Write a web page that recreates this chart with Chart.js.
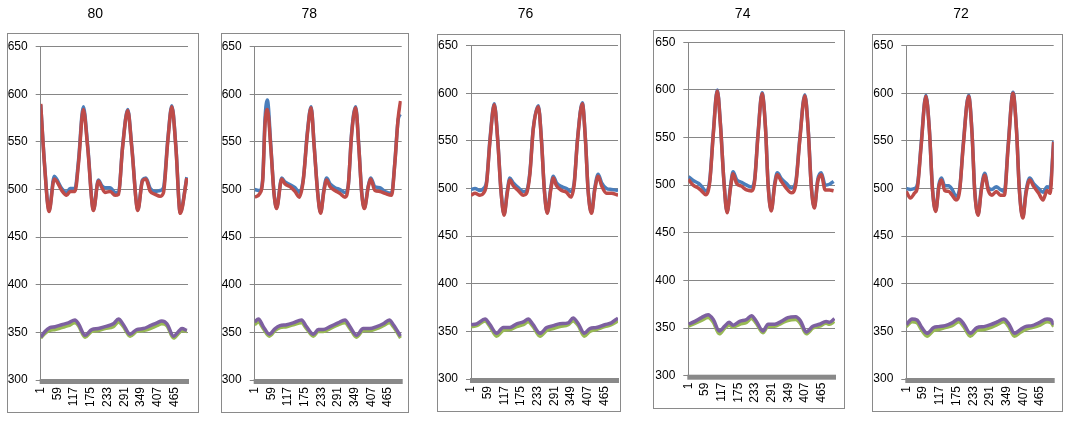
<!DOCTYPE html>
<html>
<head>
<meta charset="utf-8">
<script src="https://cdn.jsdelivr.net/npm/chart.js@4/dist/chart.umd.min.js"></script>
<style>
  body { margin: 0; background: #fff; }
  #wrap { position: relative; width: 1069px; height: 421px; overflow: hidden; }
  .frame { position: absolute; border: 1px solid #8a8a8a; box-sizing: border-box; }
  canvas { position: absolute; top: 0; }
</style>
</head>
<body>
<div id="wrap"></div>
<script>
// panel titles
var titles = ["80", "78", "76", "74", "72"];
// x tick labels (sample number)
var xTickLabels = [1, 59, 117, 175, 233, 291, 349, 407, 465];
var yTickValues = [300, 350, 400, 450, 500, 550, 600, 650];

// ---- 80 ----
var xTop80 = [1, 14, 30, 48, 56, 74, 91, 103, 120, 132, 149, 164, 184, 201, 213, 224, 242, 259, 271, 285, 303, 317, 338, 354, 366, 381, 398, 415, 427, 442, 456, 470, 485, 508];
var red80 = [590, 527, 477, 511, 509, 499, 494, 498, 498, 527, 584, 544, 478, 509, 502, 497, 498, 494, 495, 544, 583, 544, 478, 509, 511, 498, 495, 493, 497, 551, 587, 544, 475, 512];
var blue80 = [589, 528, 478, 514, 511, 501, 497, 501, 501, 530, 587, 546, 479, 510, 504, 502, 502, 497, 497, 545, 584, 545, 479, 510, 512, 501, 498, 499, 502, 553, 588, 545, 476, 513];
var xBot80 = [1, 16, 33, 51, 74, 97, 120, 132, 155, 178, 201, 224, 253, 271, 288, 311, 334, 357, 381, 404, 421, 439, 462, 479, 491, 508];
var purple80 = [345, 351, 355, 356, 358, 360, 363, 359, 347, 353, 354, 356, 359, 364, 358, 348, 353, 354, 357, 360, 362, 359, 346, 351, 354, 352];
var green80 = [344, 349, 352, 353, 355, 357, 360, 357, 345, 351, 352, 354, 356, 361, 356, 346, 351, 352, 354, 357, 359, 357, 344, 349, 352, 351];

// ---- 78 ----
var xTop78 = [1, 19, 29, 37, 45, 57, 68, 77, 95, 106, 124, 141, 156, 170, 184, 197, 208, 220, 230, 242, 251, 263, 280, 297, 315, 326, 338, 352, 363, 373, 382, 396, 404, 419, 436, 454, 477, 488, 500, 508];
var red78 = [492, 496, 510, 569, 584, 544, 496, 480, 511, 506, 503, 498, 492, 510, 558, 586, 544, 496, 475, 499, 510, 503, 499, 496, 492, 503, 558, 586, 544, 496, 480, 503, 511, 499, 498, 496, 494, 527, 576, 593];
var blue78 = [500, 499, 512, 575, 594, 546, 497, 481, 512, 508, 505, 502, 497, 511, 560, 587, 545, 497, 476, 501, 512, 506, 502, 500, 497, 504, 560, 587, 545, 497, 481, 504, 512, 503, 502, 498, 496, 528, 574, 579];
var xBot78 = [1, 14, 31, 52, 72, 89, 112, 135, 164, 181, 205, 222, 239, 263, 291, 315, 332, 355, 378, 401, 425, 448, 469, 483, 508];
var purple78 = [361, 364, 356, 348, 354, 357, 358, 360, 363, 356, 348, 353, 353, 356, 360, 363, 356, 347, 354, 354, 356, 359, 363, 358, 346];
var green78 = [358, 361, 354, 346, 352, 355, 356, 358, 360, 354, 346, 351, 351, 354, 358, 360, 354, 345, 352, 352, 354, 357, 360, 356, 344];

// ---- 76 ----
var xTop76 = [1, 15, 32, 44, 55, 67, 82, 94, 105, 116, 127, 136, 148, 165, 183, 194, 206, 217, 235, 246, 256, 266, 278, 287, 298, 316, 333, 348, 360, 371, 388, 399, 408, 420, 431, 443, 455, 472, 489, 512];
var red76 = [493, 495, 493, 495, 505, 550, 588, 550, 498, 472, 495, 509, 503, 498, 493, 495, 516, 561, 586, 550, 498, 474, 498, 511, 503, 498, 496, 491, 505, 550, 589, 550, 498, 474, 498, 513, 503, 495, 495, 493];
var blue76 = [499, 500, 498, 500, 507, 552, 589, 551, 499, 473, 497, 511, 506, 501, 497, 498, 518, 562, 587, 551, 499, 475, 500, 513, 506, 502, 500, 497, 507, 551, 590, 551, 499, 475, 500, 515, 506, 500, 499, 498];
var xBot76 = [1, 21, 50, 67, 90, 113, 136, 160, 183, 200, 217, 241, 264, 287, 310, 339, 356, 374, 395, 414, 437, 466, 489, 512];
var purple76 = [357, 358, 363, 357, 348, 354, 354, 358, 360, 363, 357, 348, 354, 356, 358, 359, 364, 358, 348, 353, 354, 357, 359, 364];
var green76 = [355, 356, 361, 355, 345, 351, 352, 355, 357, 360, 355, 345, 351, 353, 355, 357, 361, 356, 345, 350, 352, 355, 357, 361];

// ---- 74 ----
var xTop74 = [1, 18, 36, 47, 62, 76, 88, 102, 113, 125, 136, 148, 157, 169, 186, 204, 221, 232, 244, 258, 270, 279, 290, 302, 311, 325, 342, 360, 375, 389, 407, 419, 429, 440, 452, 464, 478, 493, 507];
var red74 = [506, 500, 497, 494, 490, 504, 553, 599, 563, 504, 471, 497, 512, 502, 499, 495, 494, 504, 553, 596, 559, 500, 473, 500, 511, 504, 497, 492, 500, 546, 594, 556, 500, 476, 504, 511, 495, 495, 494];
var blue74 = [509, 505, 502, 499, 494, 506, 555, 600, 564, 505, 472, 499, 514, 506, 503, 500, 498, 506, 555, 597, 560, 501, 474, 502, 513, 507, 502, 497, 503, 548, 595, 557, 501, 477, 506, 513, 500, 501, 504];
var xBot74 = [1, 24, 47, 70, 88, 109, 128, 143, 157, 180, 204, 221, 238, 261, 279, 302, 325, 348, 375, 391, 412, 435, 458, 481, 493, 510];
var purple74 = [354, 357, 361, 364, 359, 347, 352, 356, 353, 357, 359, 363, 357, 347, 354, 354, 357, 361, 362, 358, 346, 352, 354, 357, 356, 360];
var green74 = [352, 355, 358, 361, 356, 344, 350, 353, 351, 354, 356, 360, 355, 345, 352, 352, 355, 358, 359, 355, 344, 350, 352, 355, 354, 357];

// ---- 72 ----
var xTop72 = [1, 15, 29, 40, 52, 69, 81, 92, 103, 114, 123, 134, 148, 160, 173, 186, 198, 217, 229, 238, 250, 261, 273, 285, 298, 313, 327, 341, 354, 371, 383, 393, 405, 416, 429, 443, 460, 475, 489, 499, 512];
var red72 = [497, 490, 495, 502, 543, 597, 561, 498, 476, 502, 509, 498, 497, 493, 488, 498, 543, 597, 557, 498, 472, 498, 514, 498, 493, 497, 493, 493, 543, 600, 561, 498, 469, 495, 509, 502, 495, 488, 498, 495, 549];
var blue72 = [500, 499, 500, 505, 545, 598, 562, 499, 477, 504, 511, 503, 503, 499, 492, 500, 545, 598, 558, 499, 473, 500, 516, 501, 499, 502, 499, 497, 545, 601, 562, 499, 470, 497, 511, 505, 500, 496, 502, 501, 550];
var xBot72 = [1, 21, 38, 55, 73, 96, 113, 136, 160, 183, 200, 223, 246, 270, 293, 316, 339, 356, 376, 397, 414, 437, 460, 489, 503, 512];
var purple72 = [357, 363, 362, 354, 348, 354, 355, 356, 359, 363, 358, 348, 354, 355, 357, 360, 363, 358, 348, 352, 355, 356, 359, 363, 362, 357];
var green72 = [355, 360, 359, 351, 345, 351, 352, 354, 356, 360, 355, 345, 351, 352, 354, 357, 360, 355, 345, 349, 352, 354, 356, 360, 359, 355];

var seriesData = [
    { xTop: xTop80, red: red80, blue: blue80, xBot: xBot80, purple: purple80, green: green80 },
    { xTop: xTop78, red: red78, blue: blue78, xBot: xBot78, purple: purple78, green: green78 },
    { xTop: xTop76, red: red76, blue: blue76, xBot: xBot76, purple: purple76, green: green76 },
    { xTop: xTop74, red: red74, blue: blue74, xBot: xBot74, purple: purple74, green: green74 },
    { xTop: xTop72, red: red72, blue: blue72, xBot: xBot72, purple: purple72, green: green72 }
];

// layout of each panel (frame box and plot area), in page pixels
var boxes = [
    { left: 7,   width: 192, top: 33, bottom: 413, aL: 40.7,  aR: 188,    aT: 46.7, aB: 380 },
    { left: 221, width: 188, top: 33, bottom: 413, aL: 254.7, aR: 401.7,  aT: 46.7, aB: 380 },
    { left: 437, width: 184, top: 34, bottom: 412, aL: 471,   aR: 618,    aT: 45.7, aB: 379 },
    { left: 653, width: 192, top: 30, bottom: 409, aL: 688.3, aR: 835,    aT: 42.3, aB: 375.7 },
    { left: 872, width: 191, top: 34, bottom: 412, aL: 906.3, aR: 1053.7, aT: 45.7, aB: 379 }
];

var blue = "#4A7EBB";
var red = "#BE4B48";
var green = "#98B954";
var purple = "#7D60A0";
var gridColor = "#868686";
var yAxisW = 38;   // wide enough so the labels are not clipped
var xAxisH = 35;
var extraLeft = 12; // canvas starts a bit left of the frame
var font = "'Liberation Sans', Arial, sans-serif";

function pts(xs, ys) {
    var out = [];
    for (var i = 0; i < xs.length; i++) {
        out.push({ x: xs[i], y: ys[i] });
    }
    return out;
}

function line(data, color) {
    return {
        data: data,
        borderColor: color,
        backgroundColor: color,
        borderWidth: 3.5,
        pointRadius: 0,
        cubicInterpolationMode: "monotone",
        fill: false
    };
}

// thick grey bar under the plot, like the Excel category axis
var axisBar = {
    id: "axisBar",
    afterDraw: function (chart) {
        var a = chart.chartArea;
        var ctx = chart.ctx;
        ctx.save();
        ctx.fillStyle = "#898989";
        ctx.fillRect(a.left - 1, a.bottom - 1, a.right - a.left + 2, 5);
        ctx.restore();
    }
};

var wrap = document.getElementById("wrap");

for (var p = 0; p < boxes.length; p++) {
    var b = boxes[p];
    var s = seriesData[p];

    var fr = document.createElement("div");
    fr.className = "frame";
    fr.style.left = b.left + "px";
    fr.style.top = b.top + "px";
    fr.style.width = b.width + "px";
    fr.style.height = (b.bottom - b.top) + "px";
    wrap.appendChild(fr);

    var cv = document.createElement("canvas");
    cv.width = b.width + extraLeft;
    cv.height = 421;
    cv.style.left = (b.left - extraLeft) + "px";
    wrap.appendChild(cv);

    new Chart(cv, {
        type: "line",
        data: {
            datasets: [
                line(pts(s.xTop, s.red), red),
                line(pts(s.xTop, s.blue), blue),
                line(pts(s.xBot, s.purple), purple),
                line(pts(s.xBot, s.green), green)
            ]
        },
        options: {
            responsive: false,
            animation: false,
            devicePixelRatio: 1,
            layout: {
                padding: {
                    left: b.aL - b.left + extraLeft - yAxisW,
                    right: b.left + b.width - b.aR,
                    top: 0,
                    bottom: 421 - b.aB - xAxisH
                }
            },
            plugins: {
                legend: { display: false },
                tooltip: { enabled: false },
                title: {
                    display: true,
                    text: titles[p],
                    color: "#000",
                    font: { family: font, size: 14, weight: "normal" },
                    padding: { top: 6, bottom: b.aT - 6 - 16.8 }
                }
            },
            scales: {
                x: {
                    type: "linear",
                    min: 1,
                    max: 512,
                    afterBuildTicks: function (scale) {
                        scale.ticks = xTickLabels.map(function (v) { return { value: v }; });
                    },
                    afterFit: function (scale) {
                        scale.height = xAxisH;
                        scale.paddingLeft = 0;
                        scale.paddingRight = 0;
                    },
                    grid: { display: true, drawOnChartArea: false, drawTicks: false },
                    border: { display: false },
                    ticks: {
                        autoSkip: false,
                        minRotation: 90,
                        maxRotation: 90,
                        padding: 7,
                        color: "#000",
                        font: { family: font, size: 12 },
                        callback: function (v) { return String(v); }
                    }
                },
                y: {
                    min: 300,
                    max: 650,
                    afterBuildTicks: function (scale) {
                        scale.ticks = yTickValues.map(function (v) { return { value: v }; });
                    },
                    afterFit: function (scale) {
                        scale.width = yAxisW;
                        scale.paddingTop = 0;
                        scale.paddingBottom = 0;
                    },
                    grid: { color: gridColor, lineWidth: 1, tickLength: 5 },
                    border: { display: true, color: gridColor, width: 1 },
                    ticks: {
                        padding: 8,
                        color: "#000",
                        font: { family: font, size: 12 }
                    }
                }
            }
        },
        plugins: [axisBar]
    });
}
</script>
</body>
</html>
